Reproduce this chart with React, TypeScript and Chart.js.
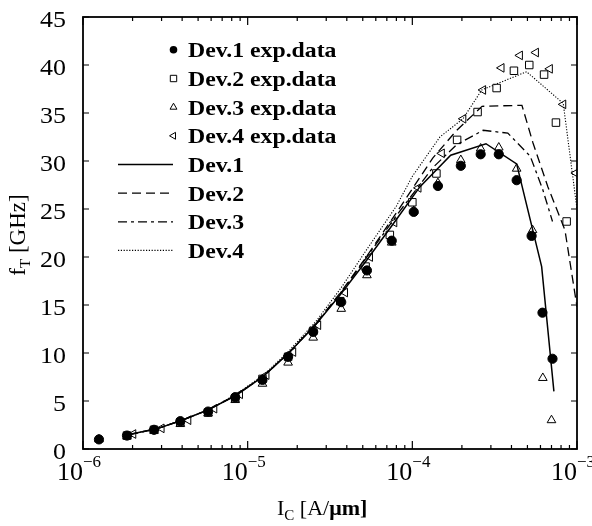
import React, { useEffect, useRef } from 'react';
import { Chart, registerables } from 'chart.js';
Chart.register(...registerables);

const W = 592;
const H = 526;

// ---- experimental data ----
const expX1 = [1.25e-6, 1.85e-6, 2.7e-6, 3.9e-6, 5.75e-6, 8.4e-6, 1.23e-5, 1.76e-5, 2.5e-5, 3.7e-5, 5.3e-5, 7.5e-5, 1.02e-4, 1.43e-4, 1.97e-4, 2.6e-4, 3.35e-4, 4.3e-4, 5.3e-4, 6.17e-4, 7.1e-4];
const expY1 = [1.0, 1.4, 2.0, 2.9, 3.9, 5.4, 7.2, 9.6, 12.2, 15.3, 18.6, 21.7, 24.7, 27.4, 29.5, 30.7, 30.7, 28.0, 22.2, 14.2, 9.4];

const expX2 = [1.85e-6, 2.7e-6, 3.9e-6, 5.75e-6, 8.4e-6, 1.23e-5, 1.76e-5, 2.5e-5, 3.65e-5, 5.2e-5, 7.3e-5, 1.0e-4, 1.4e-4, 1.87e-4, 2.49e-4, 3.25e-4, 4.14e-4, 5.13e-4, 6.31e-4, 7.45e-4, 8.65e-4];
const expY2 = [1.4, 2.0, 2.8, 3.8, 5.3, 7.3, 9.6, 12.3, 15.4, 19.0, 22.3, 25.7, 28.7, 32.2, 35.1, 37.6, 39.4, 40.0, 39.0, 34.0, 23.7];

const expX3 = [1.25e-6, 1.85e-6, 2.7e-6, 3.9e-6, 5.75e-6, 8.4e-6, 1.23e-5, 1.76e-5, 2.5e-5, 3.7e-5, 5.3e-5, 7.5e-5, 1.02e-4, 1.43e-4, 1.97e-4, 2.6e-4, 3.35e-4, 4.3e-4, 5.37e-4, 6.2e-4, 7.0e-4];
const expY3 = [1.0, 1.3, 1.9, 2.6, 3.7, 5.1, 6.8, 9.0, 11.6, 14.6, 18.1, 21.5, 24.8, 27.7, 30.1, 31.3, 31.4, 29.2, 22.8, 7.4, 3.0];

const expX4 = [2.02e-6, 3.0e-6, 4.36e-6, 6.27e-6, 8.98e-6, 1.3e-5, 1.89e-5, 2.68e-5, 3.9e-5, 5.53e-5, 7.77e-5, 1.09e-4, 1.51e-4, 2.04e-4, 2.69e-4, 3.48e-4, 4.5e-4, 5.63e-4, 6.84e-4, 8.25e-4, 9.85e-4];
const expY4 = [1.56, 2.15, 3.0, 4.2, 5.7, 7.7, 10.1, 12.9, 16.3, 20.0, 23.6, 27.2, 30.8, 34.4, 37.4, 39.7, 41.0, 41.3, 39.6, 35.9, 28.75];

// ---- simulated curves ----
const simX1 = [1.9e-6, 2.8e-6, 4e-6, 5.8e-6, 8.5e-6, 1.25e-5, 1.8e-5, 2.6e-5, 3.7e-5, 5.2e-5, 8e-5, 1.11e-4, 1.71e-4, 2.8e-4, 4.3e-4, 6.1e-4, 7.24e-4];
const simY1 = [1.5, 2.1, 3.0, 4.1, 5.6, 7.6, 10.1, 13.0, 16.2, 19.5, 23.9, 27.3, 30.6, 31.8, 29.7, 19.0, 6.0];

const simX2 = [1.9e-6, 2.8e-6, 4e-6, 5.8e-6, 8.5e-6, 1.25e-5, 1.8e-5, 2.6e-5, 3.7e-5, 5.2e-5, 8e-5, 1.33e-4, 1.86e-4, 2.65e-4, 4.63e-4, 5.4e-4, 6.66e-4, 8.45e-4, 1e-3];
const simY2 = [1.5, 2.1, 3.0, 4.1, 5.6, 7.6, 10.1, 13.1, 16.4, 19.9, 24.6, 30.3, 33.2, 35.7, 35.8, 31.9, 27.3, 22.8, 14.8];

const simX3 = [1.9e-6, 2.8e-6, 4e-6, 5.8e-6, 8.5e-6, 1.25e-5, 1.8e-5, 2.6e-5, 3.7e-5, 5.2e-5, 8e-5, 1.33e-4, 1.86e-4, 2.69e-4, 3.8e-4, 5.2e-4, 6.2e-4, 7.1e-4];
const simY3 = [1.5, 2.1, 3.0, 4.1, 5.6, 7.6, 10.1, 13.0, 16.3, 19.8, 24.3, 29.3, 31.7, 33.2, 32.9, 30.5, 27.0, 23.7];

const simX4 = [1.9e-6, 2.8e-6, 4e-6, 5.8e-6, 8.5e-6, 1.25e-5, 1.8e-5, 2.6e-5, 3.7e-5, 5.2e-5, 8e-5, 1.0e-4, 1.47e-4, 2.03e-4, 2.64e-4, 4.94e-4, 8.25e-4, 1e-3];
const simY4 = [1.5, 2.1, 3.0, 4.1, 5.7, 7.7, 10.3, 13.3, 16.8, 20.6, 25.3, 28.4, 32.5, 34.4, 37.4, 39.3, 36.0, 25.0];

// ---- axes ----
const yTicks = [0, 5, 10, 15, 20, 25, 30, 35, 40, 45];
const xDecades = [-6, -5, -4, -3];

const legendExp = ['Dev.1 exp.data', 'Dev.2 exp.data', 'Dev.3 exp.data', 'Dev.4 exp.data'];
const legendSim = ['Dev.1', 'Dev.2', 'Dev.3', 'Dev.4'];

const SERIF = '"Liberation Serif", "DejaVu Serif", serif';
const dashes: number[][] = [[], [9, 5], [9, 4, 3, 4], [1.2, 1.6]];
const lineWidths = [1.5, 1.3, 1.3, 1.1];

const pts = (xs: number[], ys: number[]) => xs.map((x, i) => ({ x, y: ys[i] }));

function drawMarker(ctx: CanvasRenderingContext2D, kind: number, x: number, y: number) {
  ctx.save();
  ctx.strokeStyle = '#000';
  ctx.fillStyle = '#000';
  ctx.lineWidth = 1;
  ctx.beginPath();
  if (kind === 0) {
    ctx.arc(x, y, 3.8, 0, Math.PI * 2);
    ctx.fill();
  } else if (kind === 1) {
    ctx.rect(x - 3.2, y - 3.2, 6.4, 6.4);
    ctx.stroke();
  } else if (kind === 2) {
    const r = 4;
    ctx.moveTo(x, y - r);
    ctx.lineTo(x + r * 0.866, y + r * 0.5);
    ctx.lineTo(x - r * 0.866, y + r * 0.5);
    ctx.closePath();
    ctx.stroke();
  } else {
    const r = 4;
    ctx.moveTo(x - r, y);
    ctx.lineTo(x + r * 0.5, y - r * 0.866);
    ctx.lineTo(x + r * 0.5, y + r * 0.866);
    ctx.closePath();
    ctx.stroke();
  }
  ctx.restore();
}

function stretchedText(ctx: CanvasRenderingContext2D, text: string, x: number, y: number, sx: number) {
  ctx.save();
  ctx.translate(x, y);
  ctx.scale(sx, 1);
  ctx.fillText(text, 0, 0);
  ctx.restore();
}

const overlay = {
  id: 'overlay',
  afterDraw(chart: any) {
    const { ctx, chartArea: a, scales } = chart;
    const xs = scales.x;
    const ys = scales.y;
    ctx.save();
    ctx.strokeStyle = '#000';
    ctx.fillStyle = '#000';
    ctx.lineWidth = 1.8;
    ctx.strokeRect(a.left, a.top, a.right - a.left, a.bottom - a.top);
    ctx.lineWidth = 1.2;

    // y ticks & labels
    ctx.font = `24px ${SERIF}`;
    ctx.textAlign = 'right';
    ctx.textBaseline = 'alphabetic';
    for (const v of yTicks) {
      const py = ys.getPixelForValue(v);
      ctx.beginPath();
      ctx.moveTo(a.left, py);
      ctx.lineTo(a.left + 6, py);
      ctx.moveTo(a.right, py);
      ctx.lineTo(a.right - 6, py);
      ctx.stroke();
      stretchedText(ctx, String(v), 66, py + 9.5, 1.08);
    }

    // x ticks
    for (let d = -6; d < -3; d++) {
      for (let m = 2; m <= 9; m++) {
        const px = xs.getPixelForValue(m * Math.pow(10, d));
        ctx.beginPath();
        ctx.moveTo(px, a.bottom);
        ctx.lineTo(px, a.bottom - 4);
        ctx.moveTo(px, a.top);
        ctx.lineTo(px, a.top + 4);
        ctx.stroke();
      }
    }
    for (const d of xDecades) {
      const px = xs.getPixelForValue(Math.pow(10, d));
      ctx.beginPath();
      ctx.moveTo(px, a.bottom);
      ctx.lineTo(px, a.bottom - 8);
      ctx.moveTo(px, a.top);
      ctx.lineTo(px, a.top + 8);
      ctx.stroke();
      // label 10^d
      ctx.textAlign = 'right';
      ctx.font = `26px ${SERIF}`;
      ctx.fillText('10', px, 480);
      ctx.textAlign = 'left';
      ctx.font = `17px ${SERIF}`;
      ctx.fillText('\u2212' + String(-d), px, 467);
    }

    // x axis title: I_C [A/μm]
    let cx = 277;
    const by = 515;
    ctx.textAlign = 'left';
    ctx.font = `22px ${SERIF}`;
    ctx.fillText('I', cx, by);
    cx += ctx.measureText('I').width;
    ctx.font = `15px ${SERIF}`;
    ctx.fillText('C', cx, by + 5);
    cx += ctx.measureText('C').width;
    ctx.font = `22px ${SERIF}`;
    ctx.fillText(' [A/', cx, by);
    cx += ctx.measureText(' [A/').width;
    ctx.font = `bold 22px ${SERIF}`;
    ctx.fillText('\u03bcm]', cx, by);

    // y axis title: f_T [GHz]
    ctx.save();
    ctx.translate(25, 235);
    ctx.rotate(-Math.PI / 2);
    ctx.font = `23px ${SERIF}`;
    const wf = ctx.measureText('f').width;
    const wr = ctx.measureText(' [GHz]').width;
    ctx.font = `15px ${SERIF}`;
    const wt = ctx.measureText('T').width;
    let lx = -(wf + wt + wr) / 2;
    ctx.font = `23px ${SERIF}`;
    ctx.fillText('f', lx, 0);
    lx += wf;
    ctx.font = `15px ${SERIF}`;
    ctx.fillText('T', lx, 5);
    lx += wt;
    ctx.font = `23px ${SERIF}`;
    ctx.fillText(' [GHz]', lx, 0);
    ctx.restore();

    // legend
    const centers = [49.7, 78.5, 107.2, 135.8, 164.5, 193.2, 221.8, 250.4];
    ctx.font = `bold 22px ${SERIF}`;
    ctx.textAlign = 'left';
    for (let i = 0; i < 4; i++) {
      drawMarker(ctx, i, 173.5, centers[i]);
      stretchedText(ctx, legendExp[i], 188, centers[i] + 7.5, 1.08);
    }
    for (let i = 0; i < 4; i++) {
      const cy = centers[4 + i];
      ctx.save();
      ctx.setLineDash(dashes[i]);
      ctx.lineWidth = lineWidths[i];
      ctx.beginPath();
      ctx.moveTo(118, cy);
      ctx.lineTo(173, cy);
      ctx.stroke();
      ctx.restore();
      stretchedText(ctx, legendSim[i], 188, cy + 7.5, 1.08);
    }
    ctx.restore();
  },
};

export default function App() {
  const ref = useRef<HTMLCanvasElement>(null);
  useEffect(() => {
    const canvas = ref.current;
    if (!canvas) return;
    const simSets = [
      [simX1, simY1],
      [simX2, simY2],
      [simX3, simY3],
      [simX4, simY4],
    ].map(([xs, ys], i) => ({
      label: legendSim[i],
      data: pts(xs, ys),
      borderColor: '#000',
      borderWidth: lineWidths[i],
      borderDash: dashes[i],
      pointRadius: 0,
      fill: false,
      tension: 0,
    }));
    const common = {
      showLine: false,
      borderColor: '#000',
      borderWidth: 1,
    };
    const expSets = [
      { ...common, label: legendExp[0], data: pts(expX1, expY1), pointStyle: 'circle', pointRadius: 4.6, backgroundColor: '#000', pointBackgroundColor: '#000' },
      { ...common, label: legendExp[1], data: pts(expX2, expY2), pointStyle: 'rect', pointRadius: 5.3, backgroundColor: 'rgba(0,0,0,0)', pointBackgroundColor: 'rgba(0,0,0,0)' },
      { ...common, label: legendExp[2], data: pts(expX3, expY3), pointStyle: 'triangle', pointRadius: 5, backgroundColor: 'rgba(0,0,0,0)', pointBackgroundColor: 'rgba(0,0,0,0)' },
      { ...common, label: legendExp[3], data: pts(expX4, expY4), pointStyle: 'triangle', pointRotation: -90, pointRadius: 5, backgroundColor: 'rgba(0,0,0,0)', pointBackgroundColor: 'rgba(0,0,0,0)' },
    ];
    const chart = new Chart(canvas, {
      type: 'line',
      data: { datasets: [...simSets, ...expSets] as any },
      options: {
        responsive: false,
        animation: false,
        layout: { padding: { left: 83, right: 15, top: 17, bottom: 77 } },
        plugins: { legend: { display: false }, tooltip: { enabled: false } },
        scales: {
          x: { type: 'logarithmic', min: 1e-6, max: 1e-3, display: false },
          y: { type: 'linear', min: 0, max: 45, display: false },
        },
      },
      plugins: [overlay],
    });
    return () => chart.destroy();
  }, []);
  return (
    <div style={{ position: 'absolute', left: 0, top: 0, width: W, height: H, background: '#fff' }}>
      <canvas ref={ref} width={W} height={H} style={{ width: W, height: H, display: 'block' }} />
    </div>
  );
}
